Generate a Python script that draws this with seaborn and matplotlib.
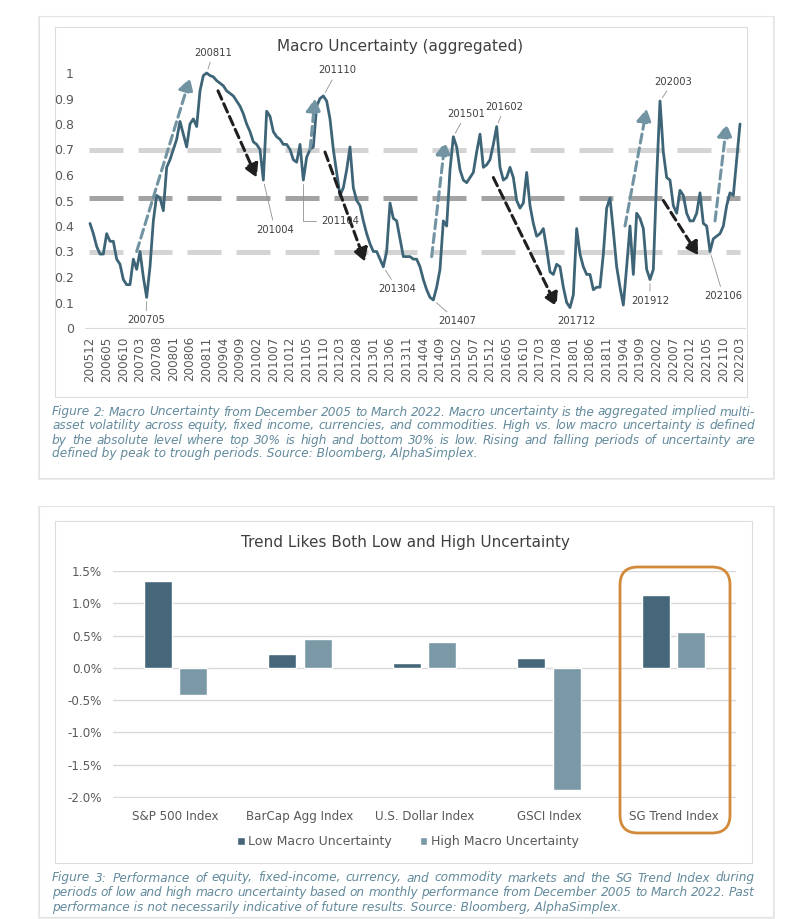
import numpy as np
import pandas as pd
import seaborn as sns
import matplotlib.pyplot as plt
from matplotlib.patches import FancyBboxPatch, Rectangle, Patch
from matplotlib.transforms import IdentityTransform

W, H = 796, 919

# ---------------- data: macro uncertainty (aggregated), monthly Dec 2005 .. Mar 2022
months = pd.period_range('2005-12', '2022-03', freq='M').strftime('%Y%m').tolist()
uncertainty = [
    0.41, 0.37, 0.32, 0.29, 0.29, 0.37, 0.34, 0.34, 0.27, 0.25,   # 200512-
    0.19, 0.17, 0.17, 0.27, 0.23, 0.30, 0.20, 0.12, 0.24, 0.42,   # 200610-
    0.52, 0.51, 0.46, 0.63, 0.66, 0.70, 0.74, 0.81, 0.76, 0.71,   # 200708-
    0.80, 0.82, 0.79, 0.93, 0.99, 1.00, 0.99, 0.985, 0.97, 0.96,  # 200806-
    0.95, 0.93, 0.92, 0.91, 0.89, 0.87, 0.84, 0.80, 0.77, 0.73,   # 200904-
    0.72, 0.70, 0.58, 0.85, 0.83, 0.77, 0.75, 0.74, 0.72, 0.72,   # 201002-
    0.70, 0.66, 0.65, 0.72, 0.58, 0.67, 0.70, 0.71, 0.87, 0.90,   # 201012-
    0.91, 0.89, 0.82, 0.70, 0.61, 0.52, 0.55, 0.62, 0.71, 0.55,   # 201110-
    0.50, 0.48, 0.42, 0.37, 0.33, 0.30, 0.30, 0.27, 0.24, 0.30,   # 201208-
    0.49, 0.43, 0.42, 0.35, 0.28, 0.28, 0.28, 0.27, 0.27, 0.24,   # 201306-
    0.19, 0.15, 0.12, 0.11, 0.16, 0.23, 0.42, 0.40, 0.62, 0.75,   # 201404-
    0.71, 0.62, 0.58, 0.57, 0.59, 0.61, 0.69, 0.76, 0.63, 0.64,   # 201502-
    0.66, 0.72, 0.79, 0.63, 0.58, 0.59, 0.63, 0.59, 0.50, 0.47,   # 201512-
    0.49, 0.61, 0.48, 0.41, 0.36, 0.37, 0.39, 0.31, 0.22, 0.21,   # 201610-
    0.25, 0.24, 0.16, 0.10, 0.08, 0.13, 0.39, 0.29, 0.24, 0.21,   # 201708-
    0.21, 0.15, 0.16, 0.16, 0.29, 0.47, 0.51, 0.38, 0.24, 0.16,   # 201806-
    0.09, 0.24, 0.40, 0.21, 0.45, 0.43, 0.39, 0.23, 0.19, 0.23,   # 201904-
    0.59, 0.89, 0.69, 0.59, 0.58, 0.48, 0.45, 0.54, 0.52, 0.45,   # 202002-
    0.42, 0.42, 0.45, 0.53, 0.41, 0.40, 0.30, 0.35, 0.36, 0.37,   # 202012-
    0.40, 0.48, 0.53, 0.52, 0.66, 0.80,                           # 202110-
]
upper_level, mid_level, lower_level = 0.7, 0.51, 0.3
peak_labels = ['200705', '200811', '201004', '201104', '201110', '201304', '201407',
               '201501', '201602', '201712', '201912', '202003', '202106']
# (start month idx, start value, end month idx, end value)
rising = [(14, 0.30, 30, 0.98), (66, 0.70, 67.5, 0.90), (102.5, 0.28, 106.5, 0.73),
          (160.5, 0.40, 167, 0.86), (187.5, 0.42, 191, 0.80)]
falling = [(38.4, 0.93, 50, 0.59), (70.5, 0.69, 82.5, 0.26), (121, 0.59, 140, 0.085),
           (172, 0.50, 182.5, 0.285)]

# ---------------- data: performance by regime (% per month)
indices = ['S&P 500 Index', 'BarCap Agg Index', 'U.S. Dollar Index', 'GSCI Index', 'SG Trend Index']
low_unc = [1.35, 0.22, 0.08, 0.15, 1.13]
high_unc = [-0.42, 0.45, 0.40, -1.89, 0.56]

cap2 = ["Figure 2: Macro Uncertainty from December 2005 to March 2022. Macro uncertainty is the aggregated implied multi-",
        "asset volatility across equity, fixed income, currencies, and commodities. High vs. low macro uncertainty is defined",
        "by the absolute level where top 30% is high and bottom 30% is low. Rising and falling periods of uncertainty are",
        "defined by peak to trough periods. Source: Bloomberg, AlphaSimplex."]
cap3 = ["Figure 3: Performance of equity, fixed-income, currency, and commodity markets and the SG Trend Index during",
        "periods of low and high macro uncertainty based on monthly performance from December 2005 to March 2022. Past",
        "performance is not necessarily indicative of future results. Source: Bloomberg, AlphaSimplex."]

# ---------------- style
sns.set_style('white')
plt.rcParams['font.family'] = ['DejaVu Sans']
line_c = '#3d6577'
low_c, high_c = '#456779', '#7a98a6'
txt_c = '#404040'
tick_c = '#595959'
cap_c = '#628a9c'

fig = plt.figure(figsize=(W / 100, H / 100), dpi=100)
fig.patch.set_facecolor('white')


def px_axes(l, t, r, b):
    return fig.add_axes([l / W, 1 - b / H, (r - l) / W, (b - t) / H])


def box(l, t, r, b, ec, lw, z, fc='white'):
    fig.add_artist(Rectangle((l, H - b), r - l, b - t, fc=fc, ec=ec, lw=lw,
                             transform=IdentityTransform(), zorder=z))


# cards with soft shadow + inner chart frames
for (l, t, r, b) in [(39, 16, 773, 478), (39, 506, 773, 917)]:
    box(l - 1, t, r + 2, b + 2, 'none', 0, -30, fc='#ececec')
    box(l, t, r, b, '#e4e4e4', 0.8, -29)
box(55, 27, 747, 397, '#dcdcdc', 0.8, -28)
box(55, 521, 752, 863, '#dcdcdc', 0.8, -28)

# ================= top chart =================
ax = px_axes(85, 40, 745, 328)
ax.set_facecolor('none')
n = len(months)
x = np.arange(n)

for lvl, col in [(upper_level, '#d4d4d4'), (mid_level, '#a3a3a3'), (lower_level, '#d4d4d4')]:
    ax.hlines(lvl, -0.3, n - 1, colors=col, lw=3.6, linestyles=(0, (6.8, 3.0)), zorder=1)

sns.lineplot(x=x, y=uncertainty, ax=ax, color=line_c, lw=2.0, zorder=3)

for (x0, y0, x1, y1) in rising:
    ax.annotate('', xy=(x1, y1), xytext=(x0, y0), zorder=4,
                arrowprops=dict(arrowstyle='-|>,head_length=0.7,head_width=0.4', color='#7294a2',
                                lw=2.2, linestyle=(0, (3.0, 1.6)), shrinkA=0, shrinkB=0,
                                mutation_scale=11))
for (x0, y0, x1, y1) in falling:
    ax.annotate('', xy=(x1, y1), xytext=(x0, y0), zorder=4,
                arrowprops=dict(arrowstyle='-|>,head_length=0.7,head_width=0.4', color='#1f1f1f',
                                lw=2.2, linestyle=(0, (3.0, 1.6)), shrinkA=0, shrinkB=0,
                                mutation_scale=11))

# label text positions (month idx, value) and connector style
label_pos = {
    '200705': (16.8, 0.03, 'arc3'), '200811': (37.0, 1.08, 'arc3'),
    '201004': (55.5, 0.385, 'arc3'), '201104': (75.0, 0.42, 'angle,angleA=0,angleB=90,rad=0'),
    '201110': (74.2, 1.01, 'arc3'), '201304': (92.2, 0.153, 'arc3'),
    '201407': (110.2, 0.027, 'arc3'), '201501': (112.8, 0.84, 'arc3'),
    '201602': (124.4, 0.868, 'arc3'), '201712': (145.8, 0.027, None),
    '201912': (168.0, 0.107, 'arc3'), '202003': (175.0, 0.966, 'arc3'),
    '202106': (190.0, 0.125, 'arc3'),
}
for lab in peak_labels:
    i = months.index(lab)
    tx, ty, cs = label_pos[lab]
    props = None if cs is None else dict(arrowstyle='-', color='#909090', lw=0.6,
                                         shrinkA=1, shrinkB=3, connectionstyle=cs)
    ax.annotate(lab, xy=(i, uncertainty[i]), xytext=(tx, ty), ha='center', va='center',
                fontsize=7.2, color=txt_c, arrowprops=props, zorder=5, annotation_clip=False)

ax.set_xlim(-1.5, 196.5)
ax.set_ylim(0, 288 / 255)
ax.set_yticks(np.arange(0, 1.01, 0.1))
ax.set_yticklabels(['0'] + [f'{v:.1f}' for v in np.arange(0.1, 0.95, 0.1)] + ['1'])
ax.set_xticks(x[::5])
ax.set_xticklabels(months[::5], rotation=90)
ax.tick_params(length=0, colors=tick_c, labelsize=9)
ax.tick_params(axis='x', labelsize=8.6, pad=6)
ax.tick_params(axis='y', pad=8)
for s in ['left', 'top', 'right']:
    ax.spines[s].set_visible(False)
ax.spines['bottom'].set_color('#d9d9d9')
ax.set_xlabel('')
ax.set_ylabel('')
fig.text(400 / W, 1 - 47 / H, 'Macro Uncertainty (aggregated)', ha='center', va='center',
         fontsize=11, color=txt_c)

# ================= bottom chart =================
df = pd.DataFrame({
    'index': indices * 2,
    'regime': ['Low Macro Uncertainty'] * len(indices) + ['High Macro Uncertainty'] * len(indices),
    'ret': low_unc + high_unc,
})
ax2 = px_axes(113, 570.5, 736, 797.5)
ax2.set_facecolor('none')
sns.barplot(data=df, x='index', y='ret', hue='regime', palette=[low_c, high_c], width=0.57,
            gap=0.21, saturation=1, ax=ax2, legend=False, zorder=3)
ax2.set_ylim(-2.008, 1.508)
ax2.set_xlim(-0.5, len(indices) - 0.5)
ax2.set_yticks(np.arange(-2.0, 1.51, 0.5))
ax2.set_yticklabels([f'{v:.1f}%' for v in np.arange(-2.0, 1.51, 0.5)])
ax2.yaxis.grid(True, color='#d9d9d9', lw=1)
ax2.set_axisbelow(True)
ax2.tick_params(length=0, colors=tick_c, labelsize=8.6)
ax2.tick_params(axis='y', pad=8)
ax2.tick_params(axis='x', pad=9)
sns.despine(ax=ax2, left=True, bottom=True)
ax2.set_xlabel('')
ax2.set_ylabel('')
fig.text(405 / W, 1 - 543 / H, 'Trend Likes Both Low and High Uncertainty', ha='center',
         va='center', fontsize=11, color=txt_c)

fig.legend(handles=[Patch(fc=low_c), Patch(fc=high_c)],
           labels=['Low Macro Uncertainty', 'High Macro Uncertainty'],
           loc='center', bbox_to_anchor=(408 / W, 1 - 842 / H), ncol=2, frameon=False,
           fontsize=9, handlelength=0.6, handleheight=0.6, handletextpad=0.3,
           columnspacing=2.2, labelcolor=tick_c)

fig.add_artist(FancyBboxPatch((620, H - 833), 110, 266, boxstyle='round,pad=0,rounding_size=18',
                              fc='none', ec='#d3893a', lw=2.0, transform=IdentityTransform(),
                              zorder=6))


# ================= captions (justified) =================
def justified(lines, x0, x1, y0, dy, size):
    r = fig.canvas.get_renderer()
    kw = dict(fontsize=size, style='italic', color=cap_c, va='center', ha='left')
    for k, line in enumerate(lines):
        y = 1 - (y0 + k * dy) / H
        if k == len(lines) - 1:
            fig.text(x0 / W, y, line, **kw)
            continue
        words = line.split(' ')
        texts = [fig.text(0, y, w_, **kw) for w_ in words]
        widths = [t.get_window_extent(r).width for t in texts]
        space = max((x1 - x0 - sum(widths)) / (len(words) - 1), 2.5)
        xx = x0
        for t, w_ in zip(texts, widths):
            t.set_position((xx / W, y))
            xx += w_ + space


justified(cap2, 52, 755, 412, 14, 8.7)
justified(cap3, 52, 755, 878, 14.5, 8.7)

fig.savefig('out.png', dpi=100)
